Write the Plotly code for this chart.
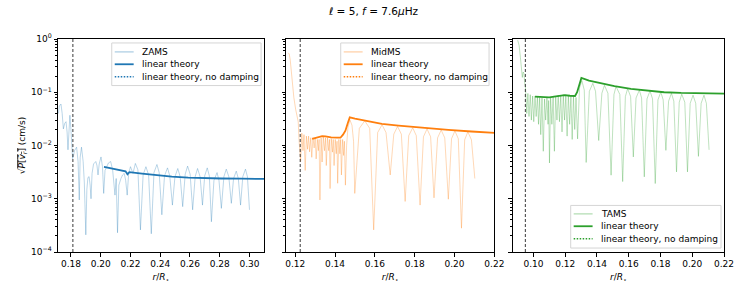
import plotly.graph_objects as go

# ---------------- data ----------------
zams_r = [0.1716, 0.1722, 0.1733, 0.1741, 0.1749, 0.1758, 0.1767, 0.1774, 0.1780, 0.1786, 0.1793, 0.1800, 0.1807,
          0.1811, 0.1816, 0.1824, 0.1838, 0.1848, 0.1856, 0.1862, 0.1871, 0.1882, 0.1890, 0.1900, 0.1907, 0.1914,
          0.1922, 0.1929, 0.1935, 0.1942, 0.1952, 0.1967, 0.1975, 0.1982, 0.1990, 0.2002, 0.2012, 0.2020, 0.2029,
          0.2040, 0.2052, 0.2067, 0.2080, 0.2096, 0.2104, 0.2113, 0.2122, 0.2136, 0.2147, 0.2158, 0.2168, 0.2178,
          0.2188, 0.2200, 0.2217, 0.2233, 0.2250, 0.2267,
          0.2285, 0.2304, 0.2322, 0.2340, 0.2358, 0.2378, 0.2393, 0.2411, 0.2429, 0.2449, 0.2464, 0.2482,
          0.2499, 0.2518, 0.2534, 0.2551, 0.2568, 0.2584, 0.2601, 0.2618, 0.2635, 0.2651, 0.2668, 0.2684,
          0.2699, 0.2716, 0.2730, 0.2744, 0.2761, 0.2782, 0.2795, 0.2811, 0.2828, 0.2844, 0.2861, 0.2878,
          0.2893, 0.2911, 0.2925, 0.2940, 0.2955, 0.2973, 0.2986, 0.3000]
zams_v = [0.040, 0.055, 0.060, 0.040, 0.0205, 0.026, 0.028, 0.018, 0.0083, 0.025, 0.037, 0.020, 0.0065,
          0.0057, 0.0062, 0.0080, 0.0093, 0.0050, 0.00095, 0.0060, 0.0093, 0.0050, 0.0020, 0.00021, 0.0015, 0.0025,
          0.0026, 0.0018, 0.0010, 0.0030, 0.0045, 0.0050, 0.0042, 0.0028, 0.0045, 0.0061, 0.0040, 0.00126, 0.0034,
          0.0040, 0.0047, 0.0050, 0.0035, 0.00117, 0.0024, 0.00023, 0.0018, 0.0024, 0.0028, 0.0030, 0.0022, 0.00117,
          0.0030, 0.0040, 0.0030, 0.0046, 0.0035, 0.00026,
          0.0028, 0.0040, 0.0028, 0.00022, 0.0031, 0.0044, 0.0031, 0.00050, 0.0027, 0.0038, 0.0027, 0.00076,
          0.0026, 0.0037, 0.0026, 0.00071, 0.0029, 0.0041, 0.0029, 0.00062, 0.0026, 0.0037, 0.0026, 0.00076,
          0.0027, 0.0038, 0.0027, 0.00037, 0.0022, 0.0031, 0.0022, 0.00066, 0.0026, 0.0036, 0.0026, 0.00082,
          0.0024, 0.0033, 0.0024, 0.00076, 0.0026, 0.0036, 0.0026, 0.00062]
zams_lin_r = [0.2022, 0.2100, 0.2167, 0.2180, 0.2193, 0.2278, 0.2367, 0.2478, 0.2589, 0.2700, 0.2811, 0.2944, 0.3100]
zams_lin_v = [0.00395, 0.00357, 0.00328, 0.00289, 0.00315, 0.00297, 0.00277, 0.00261, 0.00250, 0.00243, 0.00240,
              0.00238, 0.00236]

midms_r = [0.1165, 0.1170, 0.1175, 0.1180, 0.1185, 0.1193, 0.1202, 0.1210, 0.1215, 0.1219, 0.1224,
           0.1227, 0.1233, 0.1239, 0.1244, 0.1250, 0.1256, 0.1262, 0.1267, 0.1272, 0.1278, 0.1283, 0.1289,
           0.1295, 0.1300, 0.1305, 0.1311, 0.1316, 0.1320, 0.1324, 0.1330, 0.1335, 0.1341, 0.1347, 0.1352,
           0.1356, 0.1362, 0.1368, 0.1372, 0.1375, 0.1381, 0.1387, 0.1391, 0.1395, 0.1401, 0.1406, 0.1410,
           0.1413, 0.1419, 0.1424, 0.1428, 0.1432, 0.1438, 0.1443, 0.1447, 0.1452,
           0.1458, 0.1465, 0.1475, 0.1485, 0.1493, 0.1499,
           0.1522, 0.1549, 0.1574, 0.1594, 0.1614, 0.1636, 0.1656, 0.1677, 0.1695, 0.1714, 0.1733, 0.1752,
           0.1770, 0.1790, 0.1808, 0.1827, 0.1844, 0.1862, 0.1880, 0.1897, 0.1915, 0.1933, 0.1951, 0.1969,
           0.1985, 0.2002, 0.2019, 0.2035, 0.2051, 0.2067, 0.2085, 0.2102]
midms_v = [0.55, 0.52, 0.40, 0.25, 0.15, 0.080, 0.048, 0.035, 0.028, 0.013, 0.006,
           0.0050, 0.017, 0.0080, 0.016, 0.0034, 0.015, 0.0085, 0.015, 0.0076, 0.014, 0.0060, 0.014,
           0.0090, 0.014, 0.0056, 0.013, 0.0080, 0.013, 0.00095, 0.014, 0.0049, 0.0145, 0.0080, 0.014,
           0.0042, 0.014, 0.0080, 0.013, 0.00155, 0.0135, 0.0075, 0.013, 0.0042, 0.013, 0.0070, 0.012,
           0.00195, 0.013, 0.0070, 0.013, 0.0028, 0.013, 0.0065, 0.012, 0.0018,
           0.010, 0.022, 0.030, 0.024, 0.012, 0.00126,
           0.021, 0.029, 0.021, 0.00026, 0.0175, 0.0245, 0.0175, 0.0028, 0.0163, 0.0228, 0.0163, 0.00089,
           0.0153, 0.0215, 0.0153, 0.00076, 0.0146, 0.0205, 0.0146, 0.00104, 0.0139, 0.0195, 0.0139, 0.00098,
           0.0134, 0.0188, 0.0134, 0.00028, 0.0128, 0.0180, 0.0128, 0.0024]
midms_lin_r = [0.1285, 0.1310, 0.1335, 0.1352, 0.1380, 0.1410, 0.1427, 0.1440, 0.1452, 0.1465, 0.1474,
               0.1500, 0.1552, 0.1635, 0.1719, 0.1802, 0.1885, 0.1969, 0.2085, 0.2202]
midms_lin_v = [0.0133, 0.0142, 0.0150, 0.0149, 0.0142, 0.0140, 0.0140, 0.0160, 0.0190, 0.0270, 0.0337,
               0.0320, 0.0292, 0.0254, 0.0236, 0.0220, 0.0207, 0.0196, 0.0183, 0.0173]

tams_r = [0.0901, 0.0910, 0.0918, 0.0926, 0.0930, 0.0935, 0.0940, 0.0945, 0.0950,
          0.0958, 0.0965, 0.0972, 0.0980, 0.0987, 0.0995, 0.1002, 0.1010, 0.1017, 0.1025, 0.1032, 0.1039,
          0.1046, 0.1054, 0.1062, 0.1070, 0.1077, 0.1085, 0.1092, 0.1096, 0.1101, 0.1108, 0.1116, 0.1124,
          0.1132, 0.1140, 0.1148, 0.1156, 0.1164, 0.1172, 0.1180, 0.1188, 0.1196, 0.1204, 0.1212, 0.1220,
          0.1228, 0.1236, 0.1244, 0.1252, 0.1260, 0.1268, 0.1278, 0.1290, 0.1305, 0.1320, 0.1332,
          0.1352, 0.1374, 0.1391, 0.1411, 0.1431, 0.1447, 0.1469, 0.1489, 0.1507, 0.1520, 0.1544, 0.1562,
          0.1579, 0.1593, 0.1612, 0.1629, 0.1646, 0.1667, 0.1681, 0.1698, 0.1715, 0.1734, 0.1750, 0.1767,
          0.1784, 0.1802, 0.1817, 0.1834, 0.1851, 0.1869, 0.1884, 0.1901, 0.1918, 0.1934, 0.1953, 0.1970,
          0.1987, 0.2005, 0.2022, 0.2039, 0.2056, 0.2074, 0.2089, 0.2106]
tams_v = [0.95, 0.75, 0.45, 0.22, 0.19, 0.24, 0.23, 0.15, 0.12,
          0.040, 0.095, 0.035, 0.090, 0.030, 0.085, 0.028, 0.085, 0.035, 0.082, 0.025, 0.080,
          0.016, 0.078, 0.0078, 0.075, 0.030, 0.078, 0.025, 0.070, 0.0047, 0.080, 0.025, 0.082,
          0.0078, 0.085, 0.030, 0.088, 0.028, 0.088, 0.018, 0.090, 0.030, 0.090, 0.015, 0.088,
          0.025, 0.085, 0.013, 0.085, 0.020, 0.080, 0.0133, 0.12, 0.165, 0.11, 0.0048,
          0.104, 0.147, 0.104, 0.0124, 0.096, 0.135, 0.096, 0.00277, 0.091, 0.128, 0.091, 0.0021,
          0.083, 0.117, 0.083, 0.0061, 0.078, 0.110, 0.078, 0.00258, 0.075, 0.106, 0.075, 0.00193,
          0.072, 0.101, 0.072, 0.0081, 0.068, 0.0958, 0.068, 0.00319, 0.065, 0.0918, 0.065, 0.00319,
          0.062, 0.0879, 0.062, 0.00625, 0.062, 0.0879, 0.062, 0.0083]
tams_lin_r = [0.1010, 0.1040, 0.1070, 0.1100, 0.1130, 0.1160, 0.1196, 0.1230, 0.1262, 0.1275, 0.1288, 0.1302,
              0.1350, 0.1405, 0.1510, 0.1614, 0.1720, 0.1823, 0.1930, 0.2032, 0.2200]
tams_lin_v = [0.083, 0.082, 0.079, 0.080, 0.083, 0.086, 0.088, 0.086, 0.085, 0.100, 0.140, 0.185,
              0.165, 0.151, 0.130, 0.116, 0.106, 0.100, 0.097, 0.095, 0.094]

boundaries = [0.1813, 0.1225, 0.0949]
model_names = ["ZAMS", "MidMS", "TAMS"]
legend_labels = ["linear theory", "linear theory, no damping"]
colors = ["#1f77b4", "#ff7f0e", "#2ca02c"]
light = ["rgba(31,119,180,0.3)", "rgba(255,127,14,0.3)", "rgba(44,160,44,0.3)"]
xranges = [[0.1713, 0.3098], [0.1155, 0.22], [0.0871, 0.22]]
xticks = [[0.18, 0.20, 0.22, 0.24, 0.26, 0.28, 0.30],
          [0.12, 0.14, 0.16, 0.18, 0.20, 0.22],
          [0.10, 0.12, 0.14, 0.16, 0.18, 0.20, 0.22]]
ytick_vals = [1e-4, 1e-3, 1e-2, 1e-1, 1]
ytick_text = ["10<sup>\u22124</sup>", "10<sup>\u22123</sup>", "10<sup>\u22122</sup>", "10<sup>\u22121</sup>",
              "10<sup>0</sup>"]
minor_vals = [k * 10.0 ** e for e in range(-4, 0) for k in range(2, 10)]

series = [(zams_r, zams_v, zams_lin_r, zams_lin_v),
          (midms_r, midms_v, midms_lin_r, midms_lin_v),
          (tams_r, tams_v, tams_lin_r, tams_lin_v)]

# ---------------- layout helpers (pixel -> paper) ----------------
W, H = 747, 293
ML, MR, MT, MB = 58, 19, 39, 39
PW, PH = W - ML - MR, H - MT - MB


def px(X):
    return (X - ML) / PW


def py(Y):
    return 1 - (Y - MT) / PH


FONT = "DejaVu Sans"
fig = go.Figure()
domains = [[px(58), px(265)], [px(287.3), px(496.3)], [px(515), px(727)]]

for i in range(3):
    xa = "x" if i == 0 else f"x{i+1}"
    ya = "y" if i == 0 else f"y{i+1}"
    r, v, lr, lv = series[i]
    fig.add_trace(go.Scatter(x=r, y=v, mode="lines", name=model_names[i], showlegend=False,
                             line=dict(color=light[i], width=1), xaxis=xa, yaxis=ya))
    fig.add_trace(go.Scatter(x=lr, y=lv, mode="lines", name=legend_labels[0], showlegend=False,
                             line=dict(color=colors[i], width=1.8), xaxis=xa, yaxis=ya))
    fig.add_shape(type="line", xref=xa, yref=f"{ya} domain", x0=boundaries[i], x1=boundaries[i], y0=0, y1=1,
                  line=dict(color="#222", width=0.9, dash="3px,2px"))

# ---------------- hand-drawn legends (matplotlib-like compact boxes) ----------------
# (box left, box right, box top, box bottom, first row y, row step) in pixels
legend_boxes = [(112, 262, 43, 86, 52, 12.5),
                (342, 491, 43, 86, 52, 12.5),
                (573, 724, 207, 250, 215.5, 12.5)]
for i in range(3):
    x0, x1, y0, y1, r0, step = legend_boxes[i]
    fig.add_shape(type="rect", xref="paper", yref="paper", x0=px(x0), x1=px(x1), y0=py(y1), y1=py(y0),
                  line=dict(color="#d5d5d5", width=1), fillcolor="rgba(255,255,255,0.8)", layer="above")
    labels = [model_names[i]] + legend_labels
    styles = [dict(color=light[i], width=1.5), dict(color=colors[i], width=1.8),
              dict(color=colors[i], width=1.5, dash="1.5px,1.5px")]
    for k in range(3):
        yy = py(r0 + k * step)
        fig.add_shape(type="line", xref="paper", yref="paper", x0=px(x0 + 3), x1=px(x0 + 22), y0=yy, y1=yy,
                      line=styles[k], layer="above")
        fig.add_annotation(xref="paper", yref="paper", x=px(x0 + 28), y=yy, text=labels[k], showarrow=False,
                           xanchor="left", yanchor="middle", font=dict(family=FONT, size=9, color="black"))

axis_common = dict(showline=True, mirror=True, linecolor="black", linewidth=1, ticks="outside",
                   ticklen=3.5, tickcolor="black", showgrid=False, zeroline=False,
                   tickfont=dict(family=FONT, size=9, color="black"))

for i in range(3):
    xkey = "xaxis" if i == 0 else f"xaxis{i+1}"
    ykey = "yaxis" if i == 0 else f"yaxis{i+1}"
    xa_anchor = "y" if i == 0 else f"y{i+1}"
    ya_anchor = "x" if i == 0 else f"x{i+1}"
    fig.layout[xkey] = dict(domain=domains[i], anchor=xa_anchor, range=xranges[i], tickmode="array",
                            tickvals=xticks[i], ticktext=[f"{t:.2f}" for t in xticks[i]],
                            title=dict(text="<i>r</i>/<i>R</i><sub>\u22c6</sub>",
                                       font=dict(family=FONT, size=9, color="black"), standoff=5),
                            **axis_common)
    fig.layout[ykey] = dict(domain=[0, 1], anchor=ya_anchor, type="log", range=[-4, 0], tickmode="array",
                            tickvals=ytick_vals, ticktext=ytick_text, showticklabels=(i == 0),
                            minor=dict(tickmode="array", tickvals=minor_vals, ticks="outside", ticklen=2,
                                       tickcolor="black", showgrid=False),
                            **axis_common)

fig.layout.yaxis.title = dict(
    text="\u221a<span style='text-decoration:overline'><i>P</i>[<i>v\u0302</i><sub><i>r</i></sub>]</span> (cm/s)",
    font=dict(family=FONT, size=9, color="black"), standoff=3)

fig.update_layout(
    showlegend=False,
    title=dict(text="<i>\u2113</i> = 5, <i>f</i> = 7.6<i>\u03bc</i>Hz", xref="container", x=0.5,
               xanchor="center", y=1 - 11 / H, yanchor="middle", font=dict(family=FONT, size=10.5, color="black")),
    width=W, height=H, margin=dict(l=ML, r=MR, t=MT, b=MB),
    paper_bgcolor="white", plot_bgcolor="white",
)

fig.write_html("out.html", config={"displayModeBar": False},
               post_script="document.body.style.margin='0';document.body.style.overflow='hidden';")
